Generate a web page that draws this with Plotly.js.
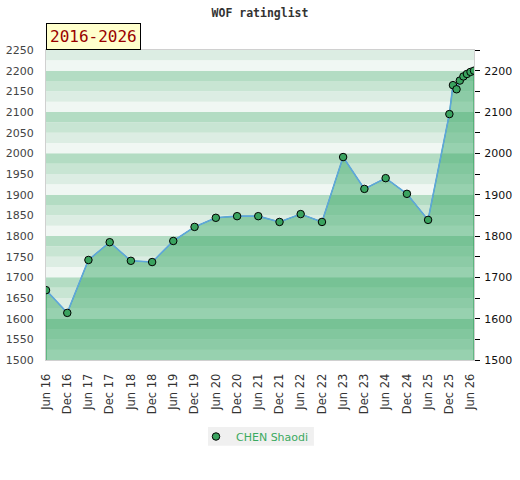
<!DOCTYPE html>
<html>
<head>
<meta charset="utf-8">
<script src="https://cdn.plot.ly/plotly-3.0.1.min.js"></script>
<style>
html,body{margin:0;padding:0;background:#fff;}
#chart{width:520px;height:480px;}
</style>
</head>
<body>
<div id="chart"></div>
<script>
// ---- data ----
var playerName = 'CHEN Shaodi';
var periodLabel = '2016-2026';
var ratingDates = [
  '2016-06-01','2016-12-01','2017-06-01','2017-12-01','2018-06-01','2018-12-01',
  '2019-06-01','2019-12-01','2020-06-01','2020-12-01','2021-06-01','2021-12-01',
  '2022-06-01','2022-12-01','2023-06-01','2023-12-01','2024-06-01','2024-12-01',
  '2025-06-01','2025-12-01','2026-01-01','2026-02-01','2026-03-01','2026-04-01',
  '2026-05-01','2026-06-01','2026-07-01'
];
var ratings = [
  1669,1614,1742,1785,1740,1737,
  1788,1822,1844,1848,1848,1834,
  1853,1834,1991,1914,1940,1902,
  1839,2095,2165,2155,2176,2186,
  2192,2197,2200
];
var tickDates = [
  '2016-06-01','2016-12-01','2017-06-01','2017-12-01','2018-06-01','2018-12-01',
  '2019-06-01','2019-12-01','2020-06-01','2020-12-01','2021-06-01','2021-12-01',
  '2022-06-01','2022-12-01','2023-06-01','2023-12-01','2024-06-01','2024-12-01',
  '2025-06-01','2025-12-01','2026-06-01'
];
var tickLabels = [
  'Jun 16','Dec 16','Jun 17','Dec 17','Jun 18','Dec 18',
  'Jun 19','Dec 19','Jun 20','Dec 20','Jun 21','Dec 21',
  'Jun 22','Dec 22','Jun 23','Dec 23','Jun 24','Dec 24',
  'Jun 25','Dec 25','Jun 26'
];
var yMin = 1500, yMax = 2250;

// ---- background bands ----
var bandColors = ['#f0f7f3','#dcede3','#c8e5d3','#b3dcc3'];
var shapes = [];
for (var v = yMin; v < yMax; v += 25) {
  var idx = Math.round((v % 100) / 25);
  shapes.push({type:'rect', xref:'paper', yref:'y', x0:0, x1:1, y0:v, y1:v+25,
    fillcolor:bandColors[idx], line:{width:0}, layer:'below'});
}
// legend background box
shapes.push({type:'rect', xref:'paper', yref:'paper', x0:0.3785, x1:0.626, y0:-0.277, y1:-0.216,
  fillcolor:'#f0f0f0', line:{width:0}, layer:'below'});

var n = ratingDates.length;
var fillX = [ratingDates[0]].concat(ratingDates, [ratingDates[n-1]]);
var fillY = [yMin].concat(ratings, [yMin]);

var traces = [
  {x:fillX, y:fillY, type:'scatter', mode:'lines', fill:'toself',
   fillcolor:'rgba(50,166,98,0.47)', line:{color:'#2f9e58', width:1},
   showlegend:false, hoverinfo:'skip'},
  {x:ratingDates, y:ratings, type:'scatter', mode:'lines',
   line:{color:'#5ea6dc', width:1.6}, showlegend:false},
  {x:ratingDates, y:ratings, type:'scatter', mode:'markers', name:playerName,
   marker:{color:'#3aa35f', size:7.5, line:{color:'#000', width:1}}},
  {x:ratingDates, y:ratings, type:'scatter', mode:'markers', yaxis:'y2',
   marker:{opacity:0}, showlegend:false, hoverinfo:'skip'}
];

var layout = {
  width:520, height:480,
  margin:{l:46, r:46, t:50, b:120},
  paper_bgcolor:'#fff', plot_bgcolor:'#fff',
  font:{family:'DejaVu Sans', size:11, color:'#444'},
  title:{text:'WOF ratinglist', x:0.5, xanchor:'center', y:0.972, yanchor:'middle',
    font:{family:'DejaVu Sans Mono', size:11.5, color:'#333', weight:'bold'}},
  showlegend:true,
  legend:{orientation:'h', x:0.3505, xanchor:'left', y:-0.20, yanchor:'top',
    bgcolor:'rgba(0,0,0,0)', font:{family:'DejaVu Sans', size:11, color:'#3aaa60'},
    itemwidth:30},
  xaxis:{type:'date', range:[ratingDates[0], ratingDates[n-1]],
    tickmode:'array', tickvals:tickDates, ticktext:tickLabels, tickangle:-90,
    tickfont:{family:'DejaVu Sans', size:11.5, color:'#333'}, ticklabelstandoff:8,
    showgrid:false, zeroline:false, showline:true, linecolor:'#d0d0d0', mirror:true,
    ticks:'', fixedrange:true},
  yaxis:{range:[yMin, yMax], tickmode:'linear', tick0:1500, dtick:50,
    tickfont:{family:'DejaVu Sans', size:11, color:'#444'}, ticklabelstandoff:9,
    showgrid:false, zeroline:false, showline:true, linecolor:'#d0d0d0', mirror:true,
    ticks:''},
  yaxis2:{overlaying:'y', side:'right', range:[yMin, yMax], tickmode:'linear',
    tick0:1500, dtick:100, ticks:'outside', ticklen:5, tickcolor:'#000',
    minor:{dtick:50, tick0:1500, ticks:'outside', ticklen:5, tickcolor:'#000', showgrid:false},
    tickfont:{family:'DejaVu Sans', size:11, color:'#111'}, ticklabelstandoff:2,
    showgrid:false, zeroline:false, showline:false},
  shapes:shapes,
  annotations:[{text:periodLabel, xref:'paper', yref:'paper', x:0, y:1, xanchor:'left', yanchor:'bottom',
    showarrow:false, bgcolor:'#ffffcc', bordercolor:'#000', borderwidth:1, borderpad:3,
    font:{family:'DejaVu Sans Mono', size:16, color:'#990000'}}]
};

Plotly.newPlot('chart', traces, layout, {displayModeBar:false, staticPlot:true});
</script>
</body>
</html>
